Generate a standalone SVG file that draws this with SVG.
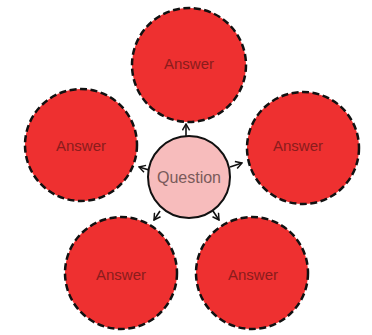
<svg xmlns="http://www.w3.org/2000/svg" width="372" height="335" viewBox="0 0 372 335">
<defs>
<style>
.ans circle{fill:#ee3030;stroke:#111;stroke-width:2.5;stroke-dasharray:7 3.5}
.ans text{font-family:"Liberation Sans",Arial,sans-serif;font-size:15px;fill:#8a1c1c;text-anchor:middle;dominant-baseline:central}
.q circle{fill:#f7bcbc;stroke:#111;stroke-width:2}
.q text{font-family:"Liberation Sans",Arial,sans-serif;font-size:16px;fill:#7a5a5a;text-anchor:middle;dominant-baseline:central}
.conn line{stroke:#111;stroke-width:1.6;marker-end:url(#arr)}
</style>
<marker id="arr" viewBox="0 0 10 10" refX="9" refY="5" markerWidth="9" markerHeight="9" orient="auto" markerUnits="userSpaceOnUse">
<path d="M2,1 L9,5 L2,9" fill="none" stroke="#111" stroke-width="1.6"/>
</marker>
</defs>
<rect width="372" height="335" fill="#fff"/>
<g class="conn" id="connectors">
<line x1="186" y1="136" x2="186" y2="124"/>
<line x1="149" y1="170" x2="139" y2="167"/>
<line x1="230" y1="167" x2="242" y2="163"/>
<line x1="160" y1="211" x2="154" y2="220"/>
<line x1="213" y1="211" x2="219" y2="220"/>
</g>
<g class="ans" id="answer-top"><circle cx="189" cy="65" r="57"/><text x="189" y="63">Answer</text></g>
<g class="ans" id="answer-left"><circle cx="81" cy="145" r="56"/><text x="81" y="145">Answer</text></g>
<g class="ans" id="answer-right"><circle cx="303" cy="148" r="56"/><text x="298" y="145">Answer</text></g>
<g class="ans" id="answer-bottom-left"><circle cx="121" cy="273" r="56"/><text x="121" y="274">Answer</text></g>
<g class="ans" id="answer-bottom-right"><circle cx="252" cy="273" r="56"/><text x="253" y="274">Answer</text></g>
<g class="q" id="question"><circle cx="189" cy="177" r="41"/><text x="189" y="177">Question</text></g>
</svg>
